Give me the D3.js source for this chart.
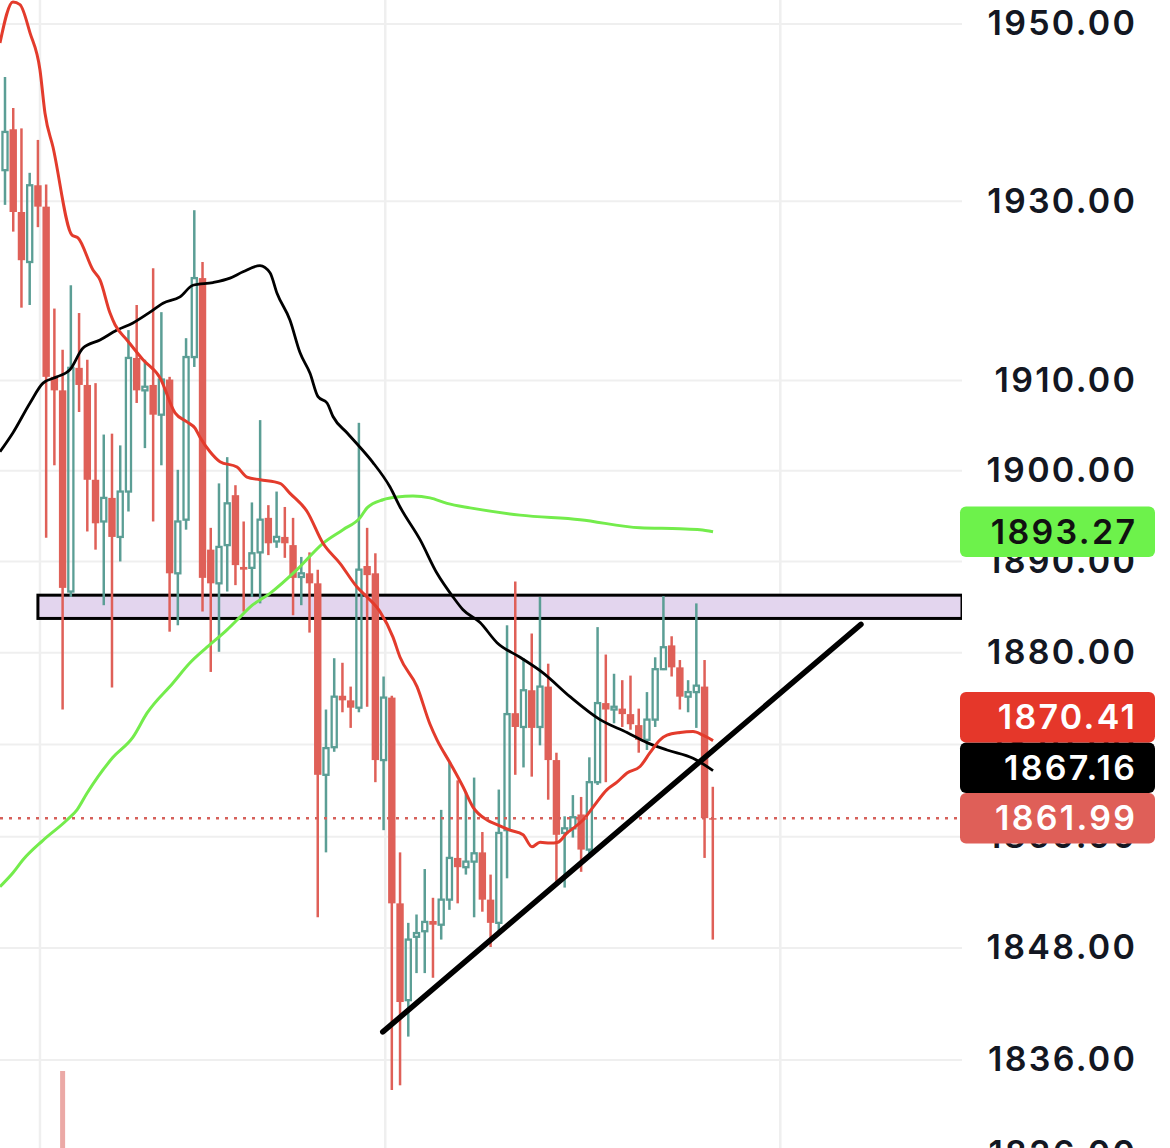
<!DOCTYPE html>
<html><head><meta charset="utf-8">
<script src="https://cdn.jsdelivr.net/npm/d3@7"></script>
<style>html,body{margin:0;padding:0;background:#fff;} svg{display:block;}</style>
</head><body>
<svg id="chart" width="1170" height="1148"></svg>
<script>
// ---- DATA ----
const opens  = [1933.5,1938.1,1928.8,1923.2,1931.8,1929.4,1910.4,1908.9,1886.7,1911.4,1909.5,1899.0,1894.4,1897.0,1892.7,1897.7,1912.5,1908.9,1909.5,1906.2,1910.1,1888.7,1894.6,1912.6,1921.4,1891.3,1887.6,1891.8,1897.3,1889.4,1889.3,1891.0,1894.8,1892.2,1892.7,1891.8,1888.3,1888.7,1887.6,1866.7,1869.7,1875.3,1874.8,1874.0,1889.5,1888.7,1868.3,1875.1,1852.8,1842.4,1849.2,1849.8,1850.9,1850.5,1853.2,1857.7,1856.7,1857.3,1858.3,1853.2,1850.7,1860.7,1873.4,1871.9,1875.9,1871.9,1876.3,1868.3,1860.4,1860.9,1862.4,1858.6,1865.9,1874.5,1873.8,1873.9,1873.3,1872.1,1870.5,1872.7,1878.2,1880.8,1878.4,1875.2,1875.7,1876.3,1862.0];
const highs  = [1944.0,1940.5,1938.2,1933.2,1936.9,1931.9,1918.0,1913.4,1920.6,1917.5,1912.3,1909.7,1904.0,1904.1,1902.8,1915.6,1918.4,1912.3,1922.5,1917.6,1910.4,1900.1,1914.7,1929.0,1923.2,1893.7,1898.6,1901.5,1898.4,1894.4,1896.5,1905.6,1896.2,1897.7,1896.0,1894.8,1890.5,1891.0,1889.1,1873.8,1879.4,1878.9,1876.3,1905.3,1893.7,1890.9,1877.4,1875.3,1858.3,1850.7,1851.6,1856.5,1853.4,1862.9,1868.1,1866.1,1864.8,1866.4,1860.5,1855.9,1865.1,1883.0,1887.8,1879.4,1882.1,1886.1,1878.8,1869.1,1862.2,1864.5,1864.3,1868.6,1882.8,1879.8,1877.7,1877.0,1877.5,1873.9,1875.7,1879.5,1886.2,1881.8,1879.2,1877.0,1885.4,1879.2,1865.4];
const lows   = [1929.6,1926.6,1918.1,1918.4,1927.1,1892.6,1900.6,1873.8,1886.1,1906.5,1893.3,1891.3,1885.2,1876.2,1890.0,1895.5,1907.5,1902.5,1894.4,1900.6,1882.3,1883.0,1893.5,1911.5,1884.5,1877.9,1880.1,1886.7,1887.4,1884.5,1886.1,1885.4,1890.7,1891.5,1890.4,1884.1,1885.2,1882.2,1851.3,1858.3,1869.2,1873.5,1871.8,1873.5,1874.1,1865.9,1860.7,1832.8,1833.3,1838.5,1845.3,1845.3,1844.8,1848.9,1852.1,1852.8,1855.9,1851.3,1851.9,1848.1,1849.7,1855.5,1866.7,1867.5,1866.5,1869.9,1864.0,1854.8,1854.5,1859.9,1856.2,1858.0,1865.6,1865.9,1872.3,1871.9,1871.6,1869.1,1869.4,1871.9,1878.1,1877.4,1873.8,1873.5,1871.8,1857.7,1848.9];
const closes = [1937.8,1928.8,1923.4,1931.8,1929.4,1910.4,1908.9,1887.1,1911.4,1909.5,1899.0,1894.2,1897.0,1892.7,1897.7,1912.5,1908.9,1909.3,1906.2,1910.1,1888.7,1894.4,1912.6,1921.4,1888.2,1887.6,1891.6,1896.4,1889.6,1889.1,1890.9,1894.6,1892.0,1892.7,1892.0,1888.2,1888.7,1887.6,1866.7,1869.6,1875.2,1874.8,1874.0,1889.1,1888.5,1868.3,1875.1,1852.8,1842.2,1848.9,1849.6,1850.8,1850.5,1853.2,1857.7,1856.7,1857.3,1858.2,1853.2,1850.7,1860.4,1873.3,1871.9,1875.9,1871.8,1876.3,1868.3,1860.2,1860.9,1862.1,1858.6,1865.9,1874.5,1873.8,1874.1,1873.3,1872.2,1870.5,1872.7,1878.2,1880.6,1878.4,1875.2,1875.7,1876.4,1862.0,1861.99];

// moving averages: [bar index, price]
const fastMA = [[-0.61,1947.85],[0.97,1952.5],[1.82,1952.2],[3.04,1949.0],[4.25,1944.8],[4.86,1939.9],[5.83,1936.1],[8.14,1926.2],[8.87,1925.9],[10.69,1922.3],[11.54,1921.2],[12.76,1917.5],[13.37,1916.2],[14.82,1914.5],[16.77,1912.3],[18.83,1910.3],[20.66,1906.4],[22.11,1905.4],[23.09,1904.7],[23.69,1903.7],[24.91,1902.1],[26.12,1901.0],[28.19,1900.4],[29.4,1899.3],[30.98,1899.0],[33.41,1898.6],[34.63,1897.5],[36.7,1895.5],[38.64,1892.0],[40.7,1889.8],[42.77,1887.2],[43.99,1886.1],[45.56,1884.5],[47.14,1881.7],[48.0,1879.5],[50.06,1876.3],[51.64,1872.2],[52.49,1870.5],[54.07,1868.0],[55.65,1865.4],[56.86,1863.2],[58.57,1861.8],[59.78,1861.3],[61.36,1860.7],[62.94,1860.2],[64.03,1858.9],[65.01,1859.4],[66.22,1859.3],[67.19,1859.4],[68.29,1860.4],[69.02,1860.9],[70.23,1861.8],[71.45,1863.2],[73.15,1865.1],[74.36,1865.9],[75.58,1866.9],[77.16,1867.6],[78.37,1869.1],[79.59,1870.5],[80.44,1871.0],[82.02,1871.3],[83.6,1871.4],[84.81,1871.0],[86.03,1870.41]];
const slowMA = [[-0.61,1902.1],[0.97,1904.2],[3.04,1907.5],[4.62,1909.7],[6.32,1910.4],[7.9,1911.2],[9.48,1913.6],[11.54,1914.5],[13.61,1915.6],[15.55,1916.4],[17.62,1917.6],[19.2,1918.6],[21.26,1919.3],[22.84,1920.6],[25.27,1920.9],[27.34,1921.4],[28.92,1922.1],[30.98,1922.8],[32.2,1922.0],[33.05,1919.7],[34.63,1916.7],[35.84,1913.1],[37.06,1910.8],[38.03,1908.2],[39.13,1907.5],[39.85,1906.0],[41.55,1904.2],[43.13,1902.6],[44.71,1900.9],[46.78,1898.2],[48.0,1896.0],[50.43,1892.4],[52.49,1888.7],[54.44,1886.1],[55.65,1884.7],[57.72,1883.3],[59.78,1881.1],[62.58,1879.5],[65.37,1877.8],[68.65,1875.2],[72.3,1872.7],[75.58,1871.3],[78.0,1870.2],[80.44,1869.4],[83.6,1868.5],[86.03,1867.16]];
const longMA = [[-0.61,1854.6],[0.97,1856.1],[2.19,1857.5],[4.62,1859.6],[7.53,1861.8],[8.75,1862.9],[9.96,1864.7],[13.12,1868.6],[15.55,1870.8],[17.25,1873.4],[20.41,1876.7],[22.48,1878.9],[24.54,1880.6],[26.97,1882.5],[28.55,1883.9],[29.77,1885.0],[32.2,1886.5],[35.48,1889.1],[38.64,1892.0],[41.07,1893.5],[43.13,1894.8],[43.99,1895.9],[45.93,1896.8],[47.63,1897.1],[49.57,1897.2],[51.64,1897.0],[53.71,1896.4],[56.5,1895.9],[62.58,1895.1],[69.87,1894.6],[77.16,1893.7],[82.02,1893.6],[84.45,1893.5],[86.03,1893.27]];

const priceTicks = [1950,1930,1910,1900,1890,1880,1870,1860,1848,1836,1826];
const timeGrid = [4.25, 46.2, 94.2];
const zoneLow = 1883.75, zoneHigh = 1886.3, zoneStart = 4.0;
const trendline = [[45.9,1839.0],[104.0,1883.1]];
const lastPrice = 1861.99;
const volumeIndex = [7];
const volumeValue = [1];
const labelValues = [1861.99, 1867.16, 1870.41, 1893.27];
const labelFills  = ['#df5f58', '#000000', '#e5372a', '#6df24b'];
const labelInk    = ['#ffffff', '#ffffff', '#ffffff', '#111111'];

// ---- CHART ----
const W = 1170, H = 1148, plotRight = 962;
const svg = d3.select('#chart');
const x = d3.scaleLinear().domain([0, 86]).range([5, 712.8]);
const y = d3.scaleLog().domain([1836, 1950]).range([1060, 24]);
const vy = d3.scaleLinear().domain([0, 1]).range([H, 1071]);

svg.append('defs').append('clipPath').attr('id','plot')
  .append('rect').attr('x',0).attr('y',0).attr('width',plotRight).attr('height',H);

const plot = svg.append('g').attr('clip-path','url(#plot)');
const GRID = '#efefef';

plot.selectAll('line.hg').data(priceTicks).join('line').attr('class','hg')
  .attr('x1',0).attr('x2',plotRight).attr('y1',d=>y(d)).attr('y2',d=>y(d))
  .attr('stroke',GRID).attr('stroke-width',2);
plot.selectAll('line.vg').data(timeGrid).join('line').attr('class','vg')
  .attr('x1',d=>x(d)).attr('x2',d=>x(d)).attr('y1',0).attr('y2',H)
  .attr('stroke',GRID).attr('stroke-width',2.5);

// zone
plot.append('rect')
  .attr('x', x(zoneStart)).attr('y', y(zoneHigh))
  .attr('width', plotRight - x(zoneStart)).attr('height', y(zoneLow) - y(zoneHigh))
  .attr('fill','#e3d5ee').attr('stroke','#000').attr('stroke-width',3);

// volume
plot.selectAll('rect.vol').data(volumeIndex).join('rect').attr('class','vol')
  .attr('x', d=>x(d)-2.5).attr('width',5)
  .attr('y', (d,i)=>vy(volumeValue[i])).attr('height',(d,i)=>H - vy(volumeValue[i]))
  .attr('fill','#eba9a6');

// candles
const UP = '#5b9e95', DN = '#df6058';
const bodyW = 7.4, sw = 2.3;
const bars = opens.map((o,i)=>({i, o, h: highs[i], l: lows[i], c: closes[i]}));
const cg = plot.append('g');
bars.forEach(b=>{
  const cx = x(b.i);
  const up = b.c > b.o;
  const col = up ? UP : DN;
  const top = y(Math.max(b.o,b.c)), bot = y(Math.min(b.o,b.c));
  if (up) {
    cg.append('line').attr('x1',cx).attr('x2',cx).attr('y1',y(b.h)).attr('y2',top).attr('stroke',col).attr('stroke-width',2.5);
    cg.append('line').attr('x1',cx).attr('x2',cx).attr('y1',bot).attr('y2',y(b.l)).attr('stroke',col).attr('stroke-width',2.5);
    cg.append('rect').attr('x',cx-bodyW/2+sw/2).attr('y',top).attr('width',bodyW-sw).attr('height',Math.max(1,bot-top))
      .attr('fill','none').attr('stroke',col).attr('stroke-width',sw);
  } else {
    cg.append('line').attr('x1',cx).attr('x2',cx).attr('y1',y(b.h)).attr('y2',y(b.l)).attr('stroke',col).attr('stroke-width',2.5);
    cg.append('rect').attr('x',cx-bodyW/2).attr('y',top).attr('width',bodyW).attr('height',Math.max(1.5,bot-top)).attr('fill',col);
  }
});

// moving averages
const lineGen = d3.line().x(d=>x(d[0])).y(d=>y(d[1])).curve(d3.curveMonotoneX);
plot.append('path').datum(longMA).attr('d',lineGen).attr('fill','none').attr('stroke','#74ec4c').attr('stroke-width',3);
plot.append('path').datum(slowMA).attr('d',lineGen).attr('fill','none').attr('stroke','#000').attr('stroke-width',2.8);
plot.append('path').datum(fastMA).attr('d',lineGen).attr('fill','none').attr('stroke','#e33b2c').attr('stroke-width',3);

// last price dotted line
plot.append('line').attr('x1',0).attr('x2',plotRight).attr('y1',y(lastPrice)).attr('y2',y(lastPrice))
  .attr('stroke','#d6605a').attr('stroke-width',2.5).attr('stroke-dasharray','3,6');

// trendline
plot.append('line')
  .attr('x1',x(trendline[0][0])).attr('y1',y(trendline[0][1]))
  .attr('x2',x(trendline[1][0])).attr('y2',y(trendline[1][1]))
  .attr('stroke','#000').attr('stroke-width',5.5).attr('stroke-linecap','round');

// price axis
const FONT = 'Inter, "Noto Sans", sans-serif';
const LS = 2.3, FW = 600;
const axis = d3.axisRight(y).tickValues(priceTicks).tickFormat(d3.format('.2f')).tickSize(0);
const ag = svg.append('g').attr('transform',`translate(${plotRight},0)`).call(axis);
ag.select('.domain').remove();
ag.attr('font-family',FONT).attr('font-size',34);
ag.selectAll('text').attr('x',1135 + LS - plotRight).attr('text-anchor','end')
  .attr('fill','#131722').attr('font-weight',FW).attr('letter-spacing',LS);

// price label boxes (stacked upward to avoid overlap)
const boxH = 50.5;
let prevTop = Infinity;
const boxes = labelValues.map((v,i)=>{
  let cy = y(v);
  if (cy + boxH/2 > prevTop) cy = prevTop - boxH/2;
  prevTop = cy - boxH/2;
  return {v, cy, fill: labelFills[i], ink: labelInk[i]};
});
const bg = svg.append('g');
boxes.forEach(b=>{
  bg.append('rect').attr('x',plotRight-2).attr('y',b.cy-boxH/2).attr('width',1155-plotRight+2).attr('height',boxH)
    .attr('rx',6).attr('fill',b.fill);
  bg.append('text').attr('x',1135 + LS).attr('y',b.cy).attr('dy','0.35em').attr('text-anchor','end')
    .attr('font-family',FONT).attr('font-size',34).attr('font-weight',FW).attr('fill',b.ink)
    .attr('letter-spacing',LS)
    .text(d3.format('.2f')(b.v));
});
</script>
</body></html>
